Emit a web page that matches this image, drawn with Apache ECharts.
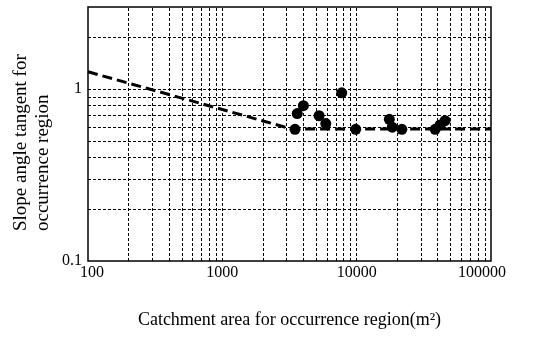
<!DOCTYPE html>
<html>
<head>
<meta charset="utf-8">
<script src="https://cdn.jsdelivr.net/npm/echarts@6/dist/echarts.min.js"></script>
<style>
  html, body { margin: 0; padding: 0; background: #fff; }
  #chart { width: 534px; height: 342px; }
</style>
</head>
<body>
<div id="chart"></div>
<script>
// points
const catchment = [3475, 3610, 4010, 5250, 5890, 7740, 9840, 17500, 18400, 21700, 38400, 41800, 45500];
const slope = [0.583, 0.72, 0.80, 0.70, 0.63, 0.95, 0.583, 0.667, 0.60, 0.583, 0.583, 0.618, 0.655];

// dashed envelope line
const trendX = [100, 3300, 100000];
const trendY = [1.26, 0.585, 0.585];

// tick labels
const xLabels = [100, 1000, 10000, 100000];
const yLabels = [0.1, 1];

// grid lines (log decades)
const xGrid = [200, 300, 400, 500, 600, 700, 800, 900, 1000,
  2000, 3000, 4000, 5000, 6000, 7000, 8000, 9000, 10000,
  20000, 30000, 40000, 50000, 60000, 70000, 80000, 90000];
const yGrid = [0.2, 0.3, 0.4, 0.5, 0.6, 0.7, 0.8, 0.9, 1, 2];

const serif = "'Liberation Serif', 'Times New Roman', serif";

const isLabel = (list, v) => list.some(l => Math.abs(l - v) / l < 1e-6);

var dom = document.getElementById('chart');
var myChart = echarts.init(dom, null, { renderer: 'canvas' });

const gridStyle = { color: '#000', width: 1, type: [3, 2], opacity: 1 };

// first and last x labels sit a bit inside the frame
function xLabel(v) {
    if (!isLabel(xLabels, v)) return '';
    let s = String(Math.round(v));
    if (isLabel([xLabels[0]], v)) return '{first|' + s + '}';
    if (isLabel([xLabels[xLabels.length - 1]], v)) return '{last|' + s + '}';
    return s;
}

var option = {
  animation: false,
  grid: {
    left: 88, right: 43, top: 7, bottom: 81,
    show: true, borderColor: '#000', borderWidth: 1.5, backgroundColor: 'transparent'
  },
  xAxis: {
    type: 'log',
    logBase: 10,
    min: 100,
    max: 100000,
    axisLine: { show: false },
    axisTick: { show: false },
    splitLine: { show: false },
    axisLabel: {
      margin: 4,
      color: '#000',
      fontFamily: serif,
      fontSize: 16,
      formatter: xLabel,
      rich: {
        first: { fontFamily: serif, fontSize: 16, color: '#000', padding: [0, 0, 0, 8] },
        last: { fontFamily: serif, fontSize: 16, color: '#000', padding: [0, 18, 0, 0] }
      }
    },
    name: 'Catchment area for occurrence region(m²)',
    nameLocation: 'middle',
    nameGap: 50,
    nameTextStyle: { color: '#000', fontFamily: serif, fontSize: 18 }
  },
  yAxis: {
    type: 'log',
    logBase: 10,
    min: 0.1,
    max: 3,
    axisLine: { show: false },
    axisTick: { show: false },
    splitLine: { show: false },
    axisLabel: {
      margin: 6,
      color: '#000',
      fontFamily: serif,
      fontSize: 16,
      formatter: v => isLabel(yLabels, v) ? String(v) : ''
    }
  },
  graphic: [{
    type: 'text',
    x: 32,
    y: 231,
    rotation: Math.PI / 2,
    style: {
      text: 'Slope angle tangent for\noccurrence region',
      fill: '#000',
      font: '19px ' + serif,
      lineHeight: 22,
      align: 'left',
      verticalAlign: 'middle'
    }
  }],
  series: [
    {
      type: 'line',
      data: trendX.map((x, i) => [x, trendY[i]]),
      symbol: 'none',
      silent: true,
      lineStyle: { color: '#000', width: 3, type: [10, 5] },
      markLine: {
        silent: true,
        symbol: 'none',
        label: { show: false },
        lineStyle: gridStyle,
        emphasis: { disabled: true },
        data: xGrid.map(v => ({ xAxis: v })).concat(yGrid.map(v => ({ yAxis: v })))
      },
      z: 3
    },
    {
      type: 'scatter',
      data: catchment.map((x, i) => [x, slope[i]]),
      symbol: 'circle',
      symbolSize: 11,
      itemStyle: { color: '#000', opacity: 1 },
      z: 4
    }
  ]
};

myChart.setOption(option);
window.addEventListener('resize', myChart.resize);
</script>
</body>
</html>
